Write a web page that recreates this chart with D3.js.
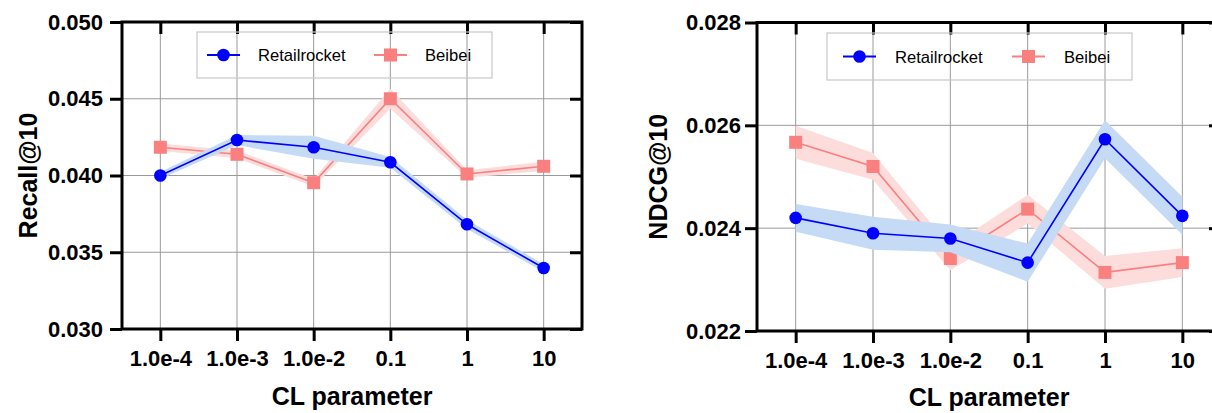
<!DOCTYPE html>
<html>
<head>
<meta charset="utf-8">
<script src="https://cdn.jsdelivr.net/npm/d3@7"></script>
<style>
  body { margin: 0; background: #fff; }
  text { font-family: "Liberation Sans", Arial, Helvetica, sans-serif; }
</style>
</head>
<body>
<div id="chart"></div>
<script>
// CL parameter sweep, Recall@10 and NDCG@10
let clParams = ['1.0e-4', '1.0e-3', '1.0e-2', '0.1', '1', '10'];
let seriesNames = ['Retailrocket', 'Beibei'];

let recallRetail = [0.0400, 0.04231, 0.04184, 0.04086, 0.03682, 0.03397];
let recallRetailErr = [0.00022, 0.00033, 0.00075, 0.00035, 0.0003, 0.00025];
let recallBeibei = [0.04184, 0.04138, 0.03953, 0.0450, 0.0401, 0.0406];
let recallBeibeiErr = [0.00025, 0.00025, 0.00025, 0.00065, 0.00025, 0.0003];

let ndcgRetail = [0.02420, 0.02390, 0.02380, 0.02333, 0.02573, 0.02424];
let ndcgRetailErr = [0.00027, 0.00032, 0.00027, 0.00037, 0.00037, 0.00037];
let ndcgBeibei = [0.02567, 0.02520, 0.02341, 0.02437, 0.02314, 0.02333];
let ndcgBeibeiErr = [0.00032, 0.00026, 0.00023, 0.00028, 0.00032, 0.00028];

let recallTicks = [0.030, 0.035, 0.040, 0.045, 0.050];
let ndcgTicks = [0.022, 0.024, 0.026, 0.028];

let colors = {
  Retailrocket: {line: '#0000ff', band: '#c5daf5', marker: 'circle'},
  Beibei: {line: '#fa8080', band: '#fddcdc', marker: 'square'}
};

let width = 1212, height = 413;
let svg = d3.select('#chart').append('svg').attr('width', width).attr('height', height);

function drawMarker(g, kind, x, y, color) {
  if (kind == 'circle') {
    g.append('circle').attr('cx', x).attr('cy', y).attr('r', 6.3).attr('fill', color);
  } else {
    g.append('rect').attr('x', x - 6.5).attr('y', y - 6.5).attr('width', 13).attr('height', 13).attr('fill', color);
  }
}

function drawPanel(p) {
  let root = svg.append('g').attr('class', 'panel');

  let xScale = d3.scalePoint().domain(clParams).range([p.left, p.right]).padding(0.5);
  let yScale = d3.scaleLinear().domain(d3.extent(p.ticks)).range([p.bottom, p.top]);

  // grid
  let grid = root.append('g').attr('class', 'grid').attr('stroke', '#9a9a9a').attr('stroke-width', 1);
  clParams.forEach(c => {
    grid.append('line').attr('x1', xScale(c)).attr('x2', xScale(c)).attr('y1', p.top).attr('y2', p.bottom);
  });
  p.ticks.forEach(t => {
    grid.append('line').attr('x1', p.left).attr('x2', p.right).attr('y1', yScale(t)).attr('y2', yScale(t));
  });

  // bands, lines and markers; Beibei goes underneath
  let area = d3.area()
    .x((d, i) => xScale(clParams[i]))
    .y0(d => yScale(d[0] - d[1]))
    .y1(d => yScale(d[0] + d[1]));
  let line = d3.line()
    .x((d, i) => xScale(clParams[i]))
    .y(d => yScale(d));

  ['Beibei', 'Retailrocket'].forEach(name => {
    let s = p.series[name];
    let c = colors[name];
    let g = root.append('g').attr('class', 'series');
    g.append('path')
      .datum(d3.zip(s.values, s.err))
      .attr('d', area)
      .attr('fill', c.band);
    g.append('path')
      .datum(s.values)
      .attr('d', line)
      .attr('fill', 'none')
      .attr('stroke', c.line)
      .attr('stroke-width', 1.6);
    s.values.forEach((v, i) => drawMarker(g, c.marker, xScale(clParams[i]), yScale(v), c.line));
  });

  // frame
  root.append('rect')
    .attr('x', p.left).attr('y', p.top)
    .attr('width', p.right - p.left).attr('height', p.bottom - p.top)
    .attr('fill', 'none').attr('stroke', '#000').attr('stroke-width', 3);

  let tickLen = 12;
  let xBottom = d3.axisBottom(xScale).tickSize(tickLen).tickSizeOuter(0).tickPadding(9);
  let xTop = d3.axisTop(xScale).tickSize(-tickLen).tickSizeOuter(0).tickFormat('');
  let yLeft = d3.axisLeft(yScale).tickValues(p.ticks).tickSize(tickLen).tickSizeOuter(0)
    .tickPadding(p.yPad).tickFormat(d3.format('.3f'));
  let yRight = d3.axisRight(yScale).tickValues(p.ticks).tickSize(-tickLen).tickSizeOuter(0).tickFormat('');

  let axes = [
    root.append('g').attr('transform', 'translate(' + [0, p.bottom] + ')').call(xBottom),
    root.append('g').attr('transform', 'translate(' + [0, p.top] + ')').call(xTop),
    root.append('g').attr('transform', 'translate(' + [p.left, 0] + ')').call(yLeft),
    root.append('g').attr('transform', 'translate(' + [p.right, 0] + ')').call(yRight)
  ];
  axes.forEach(a => {
    a.select('.domain').remove();
    a.selectAll('.tick line').attr('stroke', '#000').attr('stroke-width', 3);
    a.selectAll('.tick text')
      .attr('fill', '#000')
      .style('font-size', '22px')
      .style('font-weight', 'bold');
  });

  // axis titles
  root.append('text')
    .attr('x', (p.left + p.right) / 2).attr('y', p.xTitleY)
    .attr('text-anchor', 'middle')
    .style('font-size', '25px').style('font-weight', 'bold')
    .text('CL parameter');
  root.append('text')
    .attr('transform', 'translate(' + [p.yTitleX, (p.top + p.bottom) / 2] + ') rotate(-90)')
    .attr('text-anchor', 'middle')
    .style('font-size', '25px').style('font-weight', 'bold')
    .text(p.yTitle);

  // legend
  let lg = p.legend;
  let legend = root.append('g').attr('class', 'legend');
  legend.append('rect')
    .attr('x', lg.x).attr('y', lg.y).attr('width', lg.w).attr('height', lg.h)
    .attr('fill', 'none').attr('stroke', '#c8c8c8').attr('stroke-width', 1.2);
  seriesNames.forEach((name, i) => {
    let c = colors[name];
    let x0 = lg.x + lg.itemX[i];
    let cy = lg.y + lg.h / 2;
    legend.append('line')
      .attr('x1', x0).attr('x2', x0 + 33).attr('y1', cy).attr('y2', cy)
      .attr('stroke', c.line).attr('stroke-width', 2);
    drawMarker(legend, c.marker, x0 + 16.5, cy, c.line);
    legend.append('text')
      .attr('x', x0 + lg.textGap).attr('y', cy + 6)
      .style('font-size', '16.6px')
      .text(name);
  });
}

drawPanel({
  left: 122, right: 582, top: 22, bottom: 329,
  ticks: recallTicks, yPad: 7,
  yTitle: 'Recall@10', yTitleX: 37,
  xTitleY: 405,
  series: {
    Retailrocket: {values: recallRetail, err: recallRetailErr},
    Beibei: {values: recallBeibei, err: recallBeibeiErr}
  },
  legend: {x: 197, y: 32, w: 295, h: 46, itemX: [10, 177], textGap: 51}
});

drawPanel({
  left: 757, right: 1221, top: 22.5, bottom: 331,
  ticks: ndcgTicks, yPad: 4,
  yTitle: 'NDCG@10', yTitleX: 667,
  xTitleY: 406,
  series: {
    Retailrocket: {values: ndcgRetail, err: ndcgRetailErr},
    Beibei: {values: ndcgBeibei, err: ndcgBeibeiErr}
  },
  legend: {x: 827, y: 33, w: 305, h: 47, itemX: [16, 185], textGap: 52}
});
</script>
</body>
</html>
